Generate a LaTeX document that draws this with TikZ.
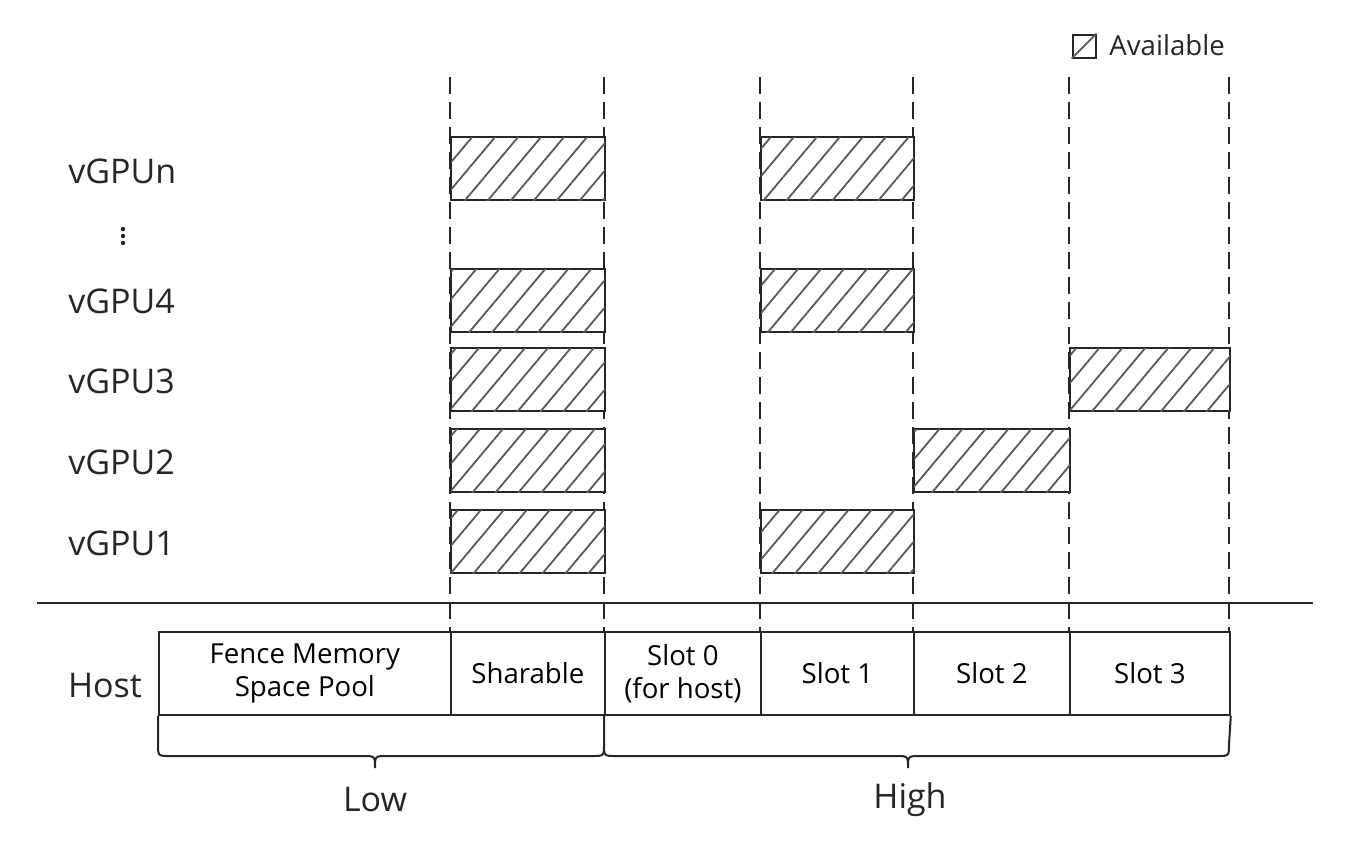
\documentclass[tikz,border=0pt]{standalone}
\usepackage{fontspec}
\setmainfont{Open Sans}
\usetikzlibrary{patterns.meta}
\begin{document}
\begin{tikzpicture}[x=0.5pt,y=-0.5pt,
  frame/.style={line width=1pt, draw=black!85},
  guide/.style={line width=1pt, draw=black!85, dash pattern=on 8.5pt off 4pt},
  bar/.style={draw=black!85, line width=1pt, fill=white, anchor=north west, inner sep=0pt,
     minimum height=31.5pt, postaction={pattern={Lines[angle=50,distance=8.8pt,line width=0.9pt]}, pattern color=black!65}},
  cell/.style={draw=black!85, line width=0.9pt, anchor=north west, inner sep=0pt,
     minimum height=41.5pt, align=center, font=\fontsize{13.8}{16.5}\selectfont},
  biglabel/.style={font=\fontsize{17}{20}\selectfont, text=black!85, inner sep=0pt},
  brace/.style={line width=1pt, draw=black!85},
  dot/.style={circle, fill=black!85, inner sep=0pt, minimum size=2.2pt}
]
\useasboundingbox (0,0) rectangle (1348,864);

% guide coordinates
\foreach \i/\x in {0/450,1/604,2/760,3/913,4/1069,5/1229}{
  \coordinate (top\i) at (\x,77);
  \coordinate (bot\i) at (\x,631);
}
\foreach \i in {0,...,5}{ \draw[guide] (top\i) -- (bot\i); }

% separator
\coordinate (sepL) at (37,603);
\coordinate (sepR) at (1313,603);
\draw[frame] (sepL) -- (sepR);

% bars
\node[bar, minimum width=77pt]   (bnA) at (450,136) {};
\node[bar, minimum width=76.5pt] (bnB) at (760,136) {};
\node[bar, minimum width=77pt]   (b4A) at (450,268) {};
\node[bar, minimum width=76.5pt] (b4B) at (760,268) {};
\node[bar, minimum width=77pt]   (b3A) at (450,347) {};
\node[bar, minimum width=80pt]   (b3B) at (1069,347) {};
\node[bar, minimum width=77pt]   (b2A) at (450,428) {};
\node[bar, minimum width=78pt]   (b2B) at (913,428) {};
\node[bar, minimum width=77pt]   (b1A) at (450,509) {};
\node[bar, minimum width=76.5pt] (b1B) at (760,509) {};

% labels
\node[biglabel, anchor=west] (lN) at (68,171) {vGPUn};
\node[dot] (d1) at (123,229) {};
\node[dot] (d2) at (123,236) {};
\node[dot] (d3) at (123,243) {};
\node[biglabel, anchor=west] (l4) at (68,301) {vGPU4};
\node[biglabel, anchor=west] (l3) at (68,381) {vGPU3};
\node[biglabel, anchor=west] (l2) at (68,462) {vGPU2};
\node[biglabel, anchor=west] (l1) at (68,543) {vGPU1};

% host table
\node[biglabel] (host) at (105,686) {Host};
\node[cell, minimum width=146pt]  (fence) at (158,631) {Fence Memory\\Space Pool};
\node[cell, minimum width=77pt]   (shar)  at (450,631) {Sharable};
\node[cell, minimum width=78pt]   (s0)    at (604,631) {Slot 0\\(for host)};
\node[cell, minimum width=76.5pt] (s1)    at (760,631) {Slot 1};
\node[cell, minimum width=78pt]   (s2)    at (913,631) {Slot 2};
\node[cell, minimum width=80pt]   (s3)    at (1069,631) {Slot 3};

% braces
\draw[brace] (fence.south west) -- (158,744) .. controls (158,756) .. (170,756) -- (363,756)
   .. controls (375,756) .. (375,768) .. controls (375,756) .. (387,756) -- (592,756)
   .. controls (604,756) .. (604,744) -- (s0.south west);
\draw[brace] (604,744) .. controls (604,756) .. (616,756) -- (896,756)
   .. controls (908,756) .. (908,768) .. controls (908,756) .. (920,756) -- (1217,756)
   .. controls (1229,756) .. (1229,744) -- (s3.south east);
\node[biglabel] (low) at (375,800) {Low};
\node[biglabel] (high) at (910,800) {High};

% legend
\node[draw=black!85, line width=1pt, minimum width=11.5pt, minimum height=11.5pt, inner sep=0pt] (leg) at (1084,46) {};
\draw[black!65, line width=0.9pt] (leg.south west) -- (leg.north east);
\node[font=\fontsize{13.8}{16}\selectfont, text=black!85, anchor=west, inner sep=0pt] (legt) at (1109,45) {Available};
\end{tikzpicture}
\end{document}
